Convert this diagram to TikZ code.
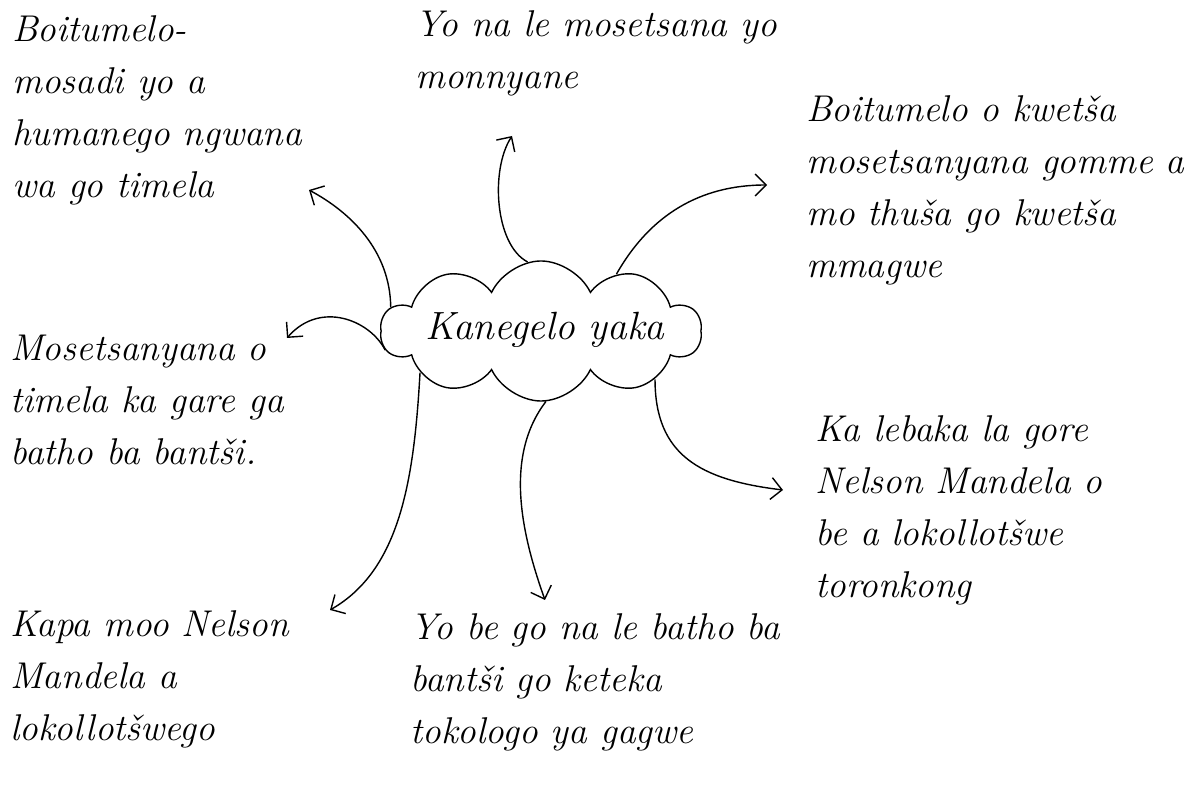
\documentclass[tikz,border=0pt]{standalone}
\usepackage{fontspec}
\usepackage{tikz}
\usetikzlibrary{positioning,shapes.symbols,arrows.meta}
\tikzset{
    idea/.style={anchor=north west, align=left, inner sep=0pt, font=\fontsize{26.5}{37}\selectfont\itshape},
    link/.style={line width=1pt, -{Straight Barb[angle=90:11pt]}}
}

\begin{document}
\begin{tikzpicture}[x=0.025cm, y=-0.025cm]
    \useasboundingbox (0,0) rectangle (1186,786);

    % Leru le le bogareng
    \node[cloud, draw, line width=1pt, cloud puffs=10, cloud puff arc=130, cloud ignores aspect,
          minimum width=8cm, minimum height=3.5cm] (story) at (541,331) {};
    \node[font=\fontsize{28}{30}\selectfont\itshape] (title) at (545,330) {Kanegelo yaka};

    % Dikgopolo
    \node[idea] (mosadi) at (12,15) {Boitumelo-\\mosadi yo a\\humanego ngwana\\wa go timela};
    \node[idea] (ngwana) at (415,10) {Yo na le mosetsana yo\\monnyane};
    \node[idea] (kwetsa) at (806,95) {Boitumelo o kwetša\\mosetsanyana gomme a\\mo thuša go kwetša\\mmagwe};
    \node[idea] (timela) at (10,335) {Mosetsanyana o\\timela ka gare ga\\batho ba bantši.};
    \node[idea] (lebaka) at (815,415) {Ka lebaka la gore\\Nelson Mandela o\\be a lokollotšwe\\toronkong};
    \node[idea] (kapa) at (10,610) {Kapa moo Nelson\\Mandela a\\lokollotšwego};
    \node[idea] (keteka) at (410,613) {Yo be go na le batho ba\\bantši go keteka\\tokologo ya gagwe};

    % Dintlha tsa mesetwana
    \coordinate (toMosadi) at (309,190);
    \coordinate (toNgwana) at (512,136);
    \coordinate (toKwetsa) at (767,185);
    \coordinate (toTimela) at (287,338);
    \coordinate (toKapa) at (330,610);
    \coordinate (toKeteka) at (545,600);
    \coordinate (toLebaka) at (783,490);

    % Mesetwana
    \draw[link] (story.171) .. controls (390,250) and (350,212) .. (toMosadi);
    \draw[link] (story.101) .. controls (495,245) and (490,170) .. (toNgwana);
    \draw[link] (story.37) .. controls (650,215) and (700,185) .. (toKwetsa);
    \draw[link] (story.187) .. controls (370,320) and (320,300) .. (toTimela);
    \draw[link] (story.199) .. controls (414,480) and (400,570) .. (toKapa);
    \draw[link] (story.274) .. controls (505,455) and (520,530) .. (toKeteka);
    \draw[link] (story.337) .. controls (655,455) and (700,480) .. (toLebaka);
\end{tikzpicture}
\end{document}
